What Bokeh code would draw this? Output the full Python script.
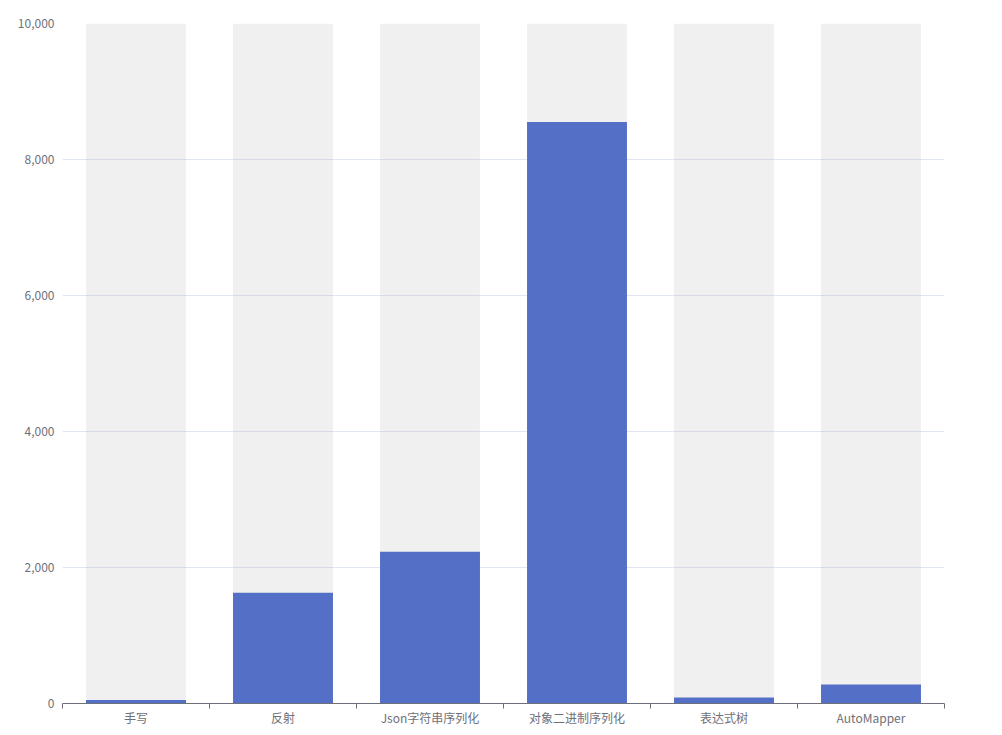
from bokeh.plotting import figure
from bokeh.models import Range1d, FixedTicker, NumeralTickFormatter, ColumnDataSource
from bokeh.embed import file_html
from bokeh.resources import INLINE

categories = ["手写", "反射", "Json字符串序列化", "对象二进制序列化", "表达式树", "AutoMapper"]
values = [50, 1630, 2230, 8550, 90, 280]
y_max = 10000
y_ticks = [0, 2000, 4000, 6000, 8000, 10000]

FONT = "Noto Sans CJK SC"
AXIS_COLOR = "#6e7079"

n = len(categories)
xs = [i + 0.5 for i in range(n)]
src = ColumnDataSource(dict(x=xs, top=values, bg=[y_max] * n, cat=categories))

W, H = 1000, 734
p = figure(width=W, height=H, output_backend="svg", toolbar_location=None,
           x_range=Range1d(0, n), y_range=Range1d(0, y_max),
           min_border_left=62, min_border_right=56, min_border_top=23, min_border_bottom=31)
p.outline_line_color = None
p.background_fill_color = "white"

p.vbar(x="x", top="bg", width=0.68, bottom=0, source=src, fill_color="#b4b4b4", fill_alpha=0.2, line_color=None)
p.vbar(x="x", top="top", width=0.68, bottom=0, source=src, fill_color="#5470c6", line_color=None)

# x axis
p.xaxis.ticker = FixedTicker(ticks=xs, minor_ticks=list(range(n + 1)))
p.xaxis.major_label_overrides = {x: c for x, c in zip(xs, categories)}
p.xaxis.major_tick_line_color = None
p.xaxis.major_tick_out = 0
p.xaxis.major_tick_in = 0
p.xaxis.minor_tick_line_color = AXIS_COLOR
p.xaxis.minor_tick_out = 5
p.xaxis.minor_tick_in = 0
p.xaxis.axis_line_color = AXIS_COLOR
p.xaxis.major_label_text_color = AXIS_COLOR
p.xaxis.major_label_text_font = FONT
p.xaxis.major_label_text_font_size = "12px"
p.xaxis.major_label_standoff = 0
p.xgrid.grid_line_color = None

# y axis
p.yaxis.ticker = FixedTicker(ticks=y_ticks)
p.yaxis.formatter = NumeralTickFormatter(format="0,0")
p.yaxis.axis_line_color = None
p.yaxis.major_tick_line_color = None
p.yaxis.minor_tick_line_color = None
p.yaxis.major_tick_out = 0
p.yaxis.major_label_standoff = 8
p.yaxis.major_label_text_color = AXIS_COLOR
p.yaxis.major_label_text_font = FONT
p.yaxis.major_label_text_font_size = "12px"
p.ygrid.grid_line_color = "#e0e6f1"
p.ygrid.ticker = FixedTicker(ticks=y_ticks)

open("out.html", "w").write(file_html(p, INLINE))
